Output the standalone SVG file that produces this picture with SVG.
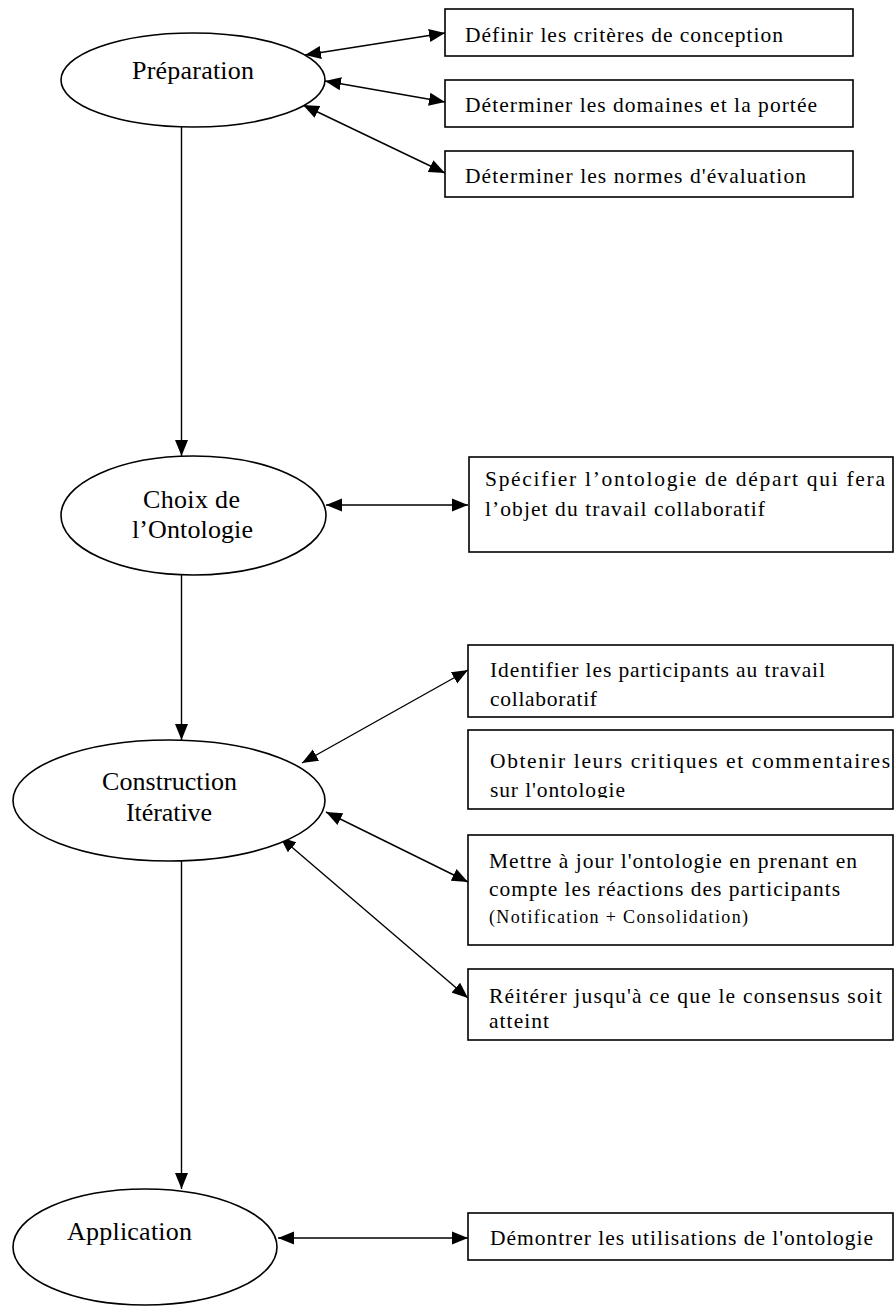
<svg xmlns="http://www.w3.org/2000/svg" width="895" height="1306" viewBox="0 0 895 1306">
  <style>
    .stage { fill: #ffffff; stroke: #000000; stroke-width: 1.6; }
    .task { fill: #ffffff; stroke: #000000; stroke-width: 1.6; }
    .lbl { font-family: "Liberation Serif", "Times New Roman", serif; fill: #000000; }
    .big { font-size: 26px; }
    .txt { font-size: 21.5px; }
    .small { font-size: 18px; }
    .link { stroke: #000000; stroke-width: 1.4; fill: none; }
    .both { marker-start: url(#head); marker-end: url(#head); }
    .down { marker-end: url(#head); }
  </style>
  <defs>
    <marker id="head" markerUnits="userSpaceOnUse" markerWidth="17" markerHeight="14" refX="16" refY="7" orient="auto-start-reverse">
      <path d="M0,0.5 L16,7 L0,13.5 Z" fill="#000000"/>
    </marker>
    <clipPath id="clipObtenir">
      <rect x="469" y="731" width="424" height="67"/>
    </clipPath>
  </defs>
  <rect width="895" height="1306" fill="#ffffff"/>

  <!-- connectors -->
  <g id="connectors">
    <line class="link down" x1="181.5" y1="127" x2="181.5" y2="456"/>
    <line class="link down" x1="181.5" y1="575" x2="181.5" y2="740"/>
    <line class="link down" x1="181.5" y1="861" x2="181.5" y2="1189"/>
    <line class="link both" x1="305" y1="55" x2="445" y2="33"/>
    <line class="link both" x1="325" y1="81" x2="445" y2="102"/>
    <line class="link both" x1="303" y1="105" x2="445" y2="173"/>
    <line class="link both" x1="326" y1="505" x2="468" y2="505"/>
    <line class="link both" x1="302" y1="763" x2="468" y2="670"/>
    <line class="link both" x1="326" y1="812" x2="468" y2="882"/>
    <line class="link both" x1="280" y1="837" x2="468" y2="998"/>
    <line class="link both" x1="278" y1="1238" x2="468" y2="1238"/>
  </g>

  <!-- phases -->
  <g id="preparation">
    <ellipse class="stage" cx="193" cy="80" rx="132" ry="47"/>
    <text class="lbl big" x="132" y="79" textLength="122">Préparation</text>
  </g>
  <g id="choix">
    <ellipse class="stage" cx="193.5" cy="515.5" rx="132.5" ry="59.5"/>
    <text class="lbl big" x="143" y="508" textLength="97">Choix de</text>
    <text class="lbl big" x="132" y="538" textLength="121">l’Ontologie</text>
  </g>
  <g id="construction">
    <ellipse class="stage" cx="169" cy="800.5" rx="156" ry="60.5"/>
    <text class="lbl big" x="102" y="790" textLength="135">Construction</text>
    <text class="lbl big" x="126" y="821" textLength="86">Itérative</text>
  </g>
  <g id="application">
    <ellipse class="stage" cx="145" cy="1247" rx="132" ry="58"/>
    <text class="lbl big" x="67" y="1240" textLength="125">Application</text>
  </g>

  <!-- tasks -->
  <g id="criteres">
    <rect class="task" x="445" y="9" width="408" height="47"/>
    <text class="lbl txt" x="465" y="42" textLength="318">Définir les critères de conception</text>
  </g>
  <g id="domaines">
    <rect class="task" x="445" y="80" width="408" height="47"/>
    <text class="lbl txt" x="465" y="112" textLength="352">Déterminer les domaines et la portée</text>
  </g>
  <g id="normes">
    <rect class="task" x="445" y="151" width="408" height="46"/>
    <text class="lbl txt" x="465" y="183" textLength="341">Déterminer les normes d'évaluation</text>
  </g>
  <g id="specifier">
    <rect class="task" x="469" y="457" width="424" height="95"/>
    <text class="lbl txt" x="485" y="486" textLength="400">Spécifier l’ontologie de départ qui fera</text>
    <text class="lbl txt" x="485" y="516" textLength="280">l’objet du travail collaboratif</text>
  </g>
  <g id="identifier">
    <rect class="task" x="468" y="645" width="425" height="72"/>
    <text class="lbl txt" x="490" y="677" textLength="335">Identifier les participants au travail</text>
    <text class="lbl txt" x="490" y="706" textLength="107">collaboratif</text>
  </g>
  <g id="obtenir">
    <rect class="task" x="468" y="730" width="425" height="79"/>
    <g clip-path="url(#clipObtenir)">
      <text class="lbl txt" x="490" y="768" textLength="400">Obtenir leurs critiques et commentaires</text>
      <text class="lbl txt" x="490" y="797" textLength="135">sur l'ontologie</text>
    </g>
  </g>
  <g id="mettre">
    <rect class="task" x="468" y="835" width="425" height="110"/>
    <text class="lbl txt" x="489" y="868" textLength="368">Mettre à jour l'ontologie en prenant en</text>
    <text class="lbl txt" x="489" y="896" textLength="351">compte les réactions des participants</text>
    <text class="lbl small" x="489" y="923" textLength="259">(Notification + Consolidation)</text>
  </g>
  <g id="reiterer">
    <rect class="task" x="468" y="969" width="425" height="71"/>
    <text class="lbl txt" x="489" y="1003" textLength="393">Réitérer jusqu'à ce que le consensus soit</text>
    <text class="lbl txt" x="489" y="1028" textLength="60">atteint</text>
  </g>
  <g id="demontrer">
    <rect class="task" x="468" y="1213" width="425" height="47"/>
    <text class="lbl txt" x="490" y="1245" textLength="383">Démontrer les utilisations de l'ontologie</text>
  </g>
</svg>
